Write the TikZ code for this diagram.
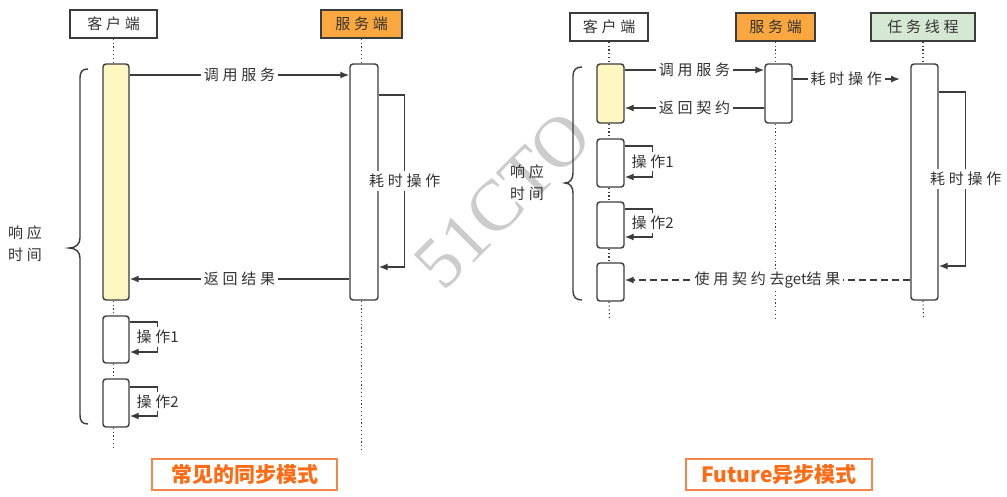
\documentclass[tikz,border=0pt]{standalone}
\usepackage{fontspec}
\setmainfont{Noto Sans CJK SC}
\newfontfamily\lblfont{Noto Sans CJK SC}[LetterSpace=25]
\newfontfamily\plainlat{Noto Sans CJK SC}
\newfontfamily\wmfont{Liberation Serif}
\usetikzlibrary{arrows.meta,calc}
\definecolor{linec}{HTML}{3C3C3C}
\definecolor{txtc}{HTML}{333333}
\definecolor{yellowf}{HTML}{FFF7C2}
\definecolor{orangef}{HTML}{F9A73E}
\definecolor{greenf}{HTML}{D5E8D4}
\definecolor{titlec}{HTML}{FF6A13}
\definecolor{titleb}{HTML}{F5854A}
\begin{document}
\begin{tikzpicture}[x=1pt,y=-1pt,
  hdr/.style={draw=linec, line width=1.4pt, minimum height=28pt, inner sep=0pt, text=txtc, font=\lblfont\fontsize{15}{15}\selectfont},
  act/.style={draw=linec, line width=1.4pt, rounded corners=3pt, fill=white, inner sep=0pt},
  life/.style={draw=linec, line width=1.2pt, dash pattern=on 1.2pt off 2.6pt},
  arr/.style={draw=linec, line width=1.4pt, -{Latex[length=9pt,width=7pt]}},
  lbl/.style={fill=white, inner sep=3pt, text=txtc, font=\lblfont\fontsize{15}{15}\selectfont},
  brc/.style={draw=linec, line width=1.4pt},
  resp/.style={align=center, text=txtc, font=\lblfont\fontsize{15}{22}\selectfont},
  ttl/.style={draw=titleb, line width=1.2pt, text=titlec, minimum height=31pt, inner sep=0pt, font=\fontsize{21}{21}\selectfont\bfseries},
  wm/.style={text=black!20, font=\wmfont\fontsize{72}{72}\selectfont}
]
\useasboundingbox[fill=white] (0,0) rectangle (1007,496);

% watermark
\node[wm, rotate=45] (wmk) at (503,200) {51CTO};

% ===== left: synchronous =====
\node[hdr, minimum width=87pt] (lc) at (113.5,24) {客户端};
\node[hdr, minimum width=81pt, fill=orangef] (ls) at (361.5,24) {服务端};
\node[act, fill=yellowf, minimum width=26pt, minimum height=236pt] (lca) at (116,182) {};
\node[act, minimum width=28pt, minimum height=236pt] (lsa) at (364,182) {};
\node[act, minimum width=26pt, minimum height=47pt] (lo1) at (116,339.5) {};
\node[act, minimum width=26pt, minimum height=48pt] (lo2) at (116,403) {};
\coordinate (lcend) at (113.5,450);
\coordinate (lsend) at (361.5,450);

\draw[life] (lc.south) -- (lc.south |- lca.north);
\draw[life] (lc.south |- lca.south) -- (lc.south |- lo1.north);
\draw[life] (lc.south |- lo1.south) -- (lc.south |- lo2.north);
\draw[life] (lc.south |- lo2.south) -- (lcend);
\draw[life] (ls.south) -- (ls.south |- lsa.north);
\draw[life] (ls.south |- lsa.south) -- (lsend);

\draw[arr] (lca.east |- 0,75) -- node[lbl]{调用服务} (lsa.west |- 0,75);
\draw[arr] (lsa.west |- 0,279) -- node[lbl]{返回结果} (lca.east |- 0,279);
\draw[arr] (lsa.east |- 0,95) -- ++(26,0) -- node[lbl]{耗时操作} ++(0,172) -- (lsa.east |- 0,267);
\draw[arr] (lo1.east |- 0,322) -- ++(28,0) -- node[lbl]{操作{\plainlat 1}} ++(0,30) -- (lo1.east |- 0,352);
\draw[arr] (lo2.east |- 0,387) -- ++(28,0) -- node[lbl]{操作{\plainlat 2}} ++(0,29) -- (lo2.east |- 0,416);

\draw[brc] (88,69) .. controls (82,69) and (80,72) .. (80,78) -- (80,238)
  .. controls (80,244) and (76,248) .. (69,248) .. controls (76,248) and (80,252) .. (80,258)
  -- (80,415) .. controls (80,421) and (82,424) .. (88,424);
\node[resp] (lresp) at (25,244) {响应\\时间};

\node[ttl, minimum width=185pt] (t1) at (244.5,474.5) {常见的同步模式};

% ===== right: Future asynchronous =====
\node[hdr, minimum width=78pt] (rc) at (609,27) {客户端};
\node[hdr, minimum width=79pt, fill=orangef] (rs) at (775.5,27) {服务端};
\node[hdr, minimum width=104pt, fill=greenf] (rt) at (923,27) {任务线程};
\node[act, fill=yellowf, minimum width=27pt, minimum height=59pt] (rca) at (610.5,93.5) {};
\node[act, minimum width=27pt, minimum height=59pt] (rsa) at (778.5,93.5) {};
\node[act, minimum width=27pt, minimum height=236pt] (rta) at (924.5,182) {};
\node[act, minimum width=27pt, minimum height=48pt] (ro1) at (610.5,163) {};
\node[act, minimum width=27pt, minimum height=46pt] (ro2) at (610.5,225) {};
\node[act, minimum width=27pt, minimum height=38pt] (rg) at (610.5,282) {};
\coordinate (rcend) at (609.5,318);
\coordinate (rsend) at (775.5,318);
\coordinate (rtend) at (923.5,318);
\coordinate (rtarr) at (900,79);

\draw[life] (rc.south) -- (rc.south |- rca.north);
\draw[life] (rc.south |- rca.south) -- (rc.south |- ro1.north);
\draw[life] (rc.south |- ro1.south) -- (rc.south |- ro2.north);
\draw[life] (rc.south |- ro2.south) -- (rc.south |- rg.north);
\draw[life] (rc.south |- rg.south) -- (rcend);
\draw[life] (rs.south) -- (rs.south |- rsa.north);
\draw[life] (rs.south |- rsa.south) -- (rsend);
\draw[life] (rt.south) -- (rt.south |- rta.north);
\draw[life] (rt.south |- rta.south) -- (rtend);

\draw[arr] (rca.east |- 0,70) -- node[lbl]{调用服务} (rsa.west |- 0,70);
\draw[arr] (rsa.west |- 0,108) -- node[lbl]{返回契约} (rca.east |- 0,108);
\draw[arr] (rsa.east |- 0,79) -- node[lbl]{耗时操作} (rtarr);
\draw[arr] (rta.east |- 0,92) -- ++(27,0) -- node[lbl]{耗时操作} ++(0,174) -- (rta.east |- 0,266);
\draw[arr] (ro1.east |- 0,146) -- ++(28,0) -- node[lbl]{操作{\plainlat 1}} ++(0,31) -- (ro1.east |- 0,177);
\draw[arr] (ro2.east |- 0,209) -- ++(28,0) -- node[lbl]{操作{\plainlat 2}} ++(0,28) -- (ro2.east |- 0,237);
\draw[arr, dash pattern=on 7pt off 4pt] (rta.west |- 0,280) -- node[lbl]{使用契约去{\plainlat get}结果} (rg.east |- 0,280);

\draw[brc] (582,67) .. controls (576,67) and (573,70) .. (573,76) -- (573,173)
  .. controls (573,179) and (570,183) .. (565,183) .. controls (570,183) and (573,187) .. (573,193)
  -- (573,291) .. controls (573,297) and (576,300) .. (582,300);
\node[resp] (rresp) at (527,183) {响应\\时间};

\node[ttl, minimum width=186pt] (t2) at (779,474.5) {Future异步模式};
\end{tikzpicture}
\end{document}
